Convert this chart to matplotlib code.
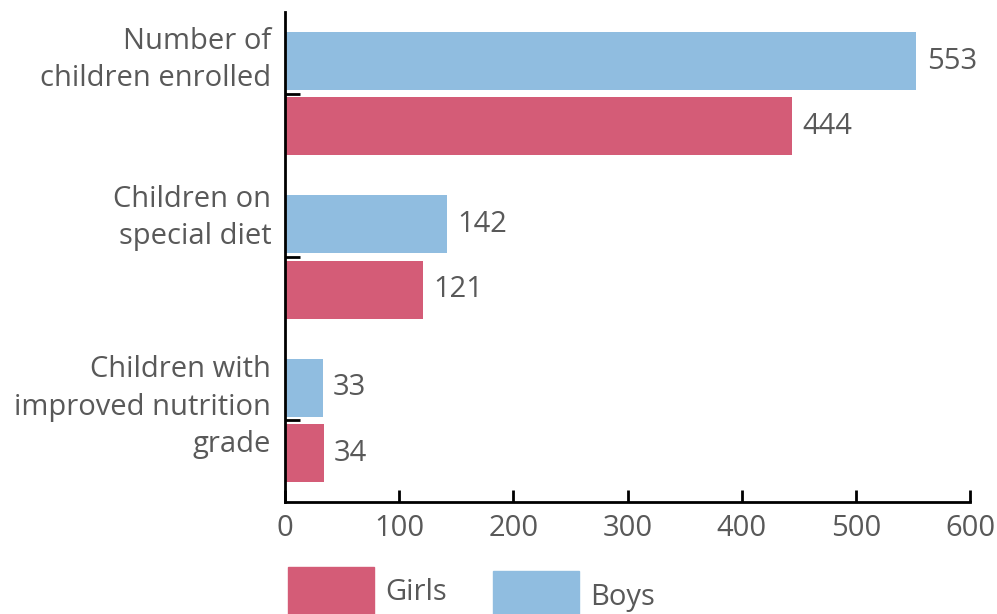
import matplotlib
matplotlib.use("Agg")
import matplotlib.pyplot as plt
from matplotlib.patches import Rectangle

categories = ["Number of\nchildren enrolled", "Children on\nspecial diet", "Children with\nimproved nutrition\ngrade"]
boys = [553, 142, 33]
girls = [444, 121, 34]
xticks = [0, 100, 200, 300, 400, 500, 600]

GIRL_C = "#d45c77"
BOY_C = "#90bde0"
TXT = "#595959"
FS = 21

plt.rcParams['font.family'] = ['Open Sans', 'DejaVu Sans']

fig = plt.figure(figsize=(9.97, 6.14), dpi=100)
W, H = 997, 614
ax = fig.add_axes([285 / W, 1 - 502 / H, (970 - 285) / W, (502 - 12) / H])

pos = list(range(len(categories)))
off = 0.2
h = 0.355
ax.barh([p - off for p in pos], boys, height=h, color=BOY_C)
ax.barh([p + off for p in pos], girls, height=h, color=GIRL_C)

for p, b, g in zip(pos, boys, girls):
    ax.text(b + 9, p - off, str(b), va='center', ha='left', fontsize=FS, color=TXT)
    ax.text(g + 9, p + off, str(g), va='center', ha='left', fontsize=FS, color=TXT)

ax.set_ylim(len(categories) - 0.5, -0.5)
ax.set_xlim(0, 600)
ax.set_xticks(xticks)
ax.set_xticklabels([str(t) for t in xticks], fontsize=FS, color=TXT)
ax.set_yticks(pos)
ax.set_yticklabels([])

label_offsets = [-0.207, -0.238, -0.08]
for p, c, o in zip(pos, categories, label_offsets):
    ax.text(-12, p + o, c, ha='right', va='center', fontsize=FS, color=TXT,
            linespacing=1.38, transform=ax.transData, clip_on=False)

for s in ['top', 'right']:
    ax.spines[s].set_visible(False)
for s in ['left', 'bottom']:
    ax.spines[s].set_linewidth(2)
    ax.spines[s].set_color('black')
ax.tick_params(axis='y', direction='in', length=11, width=2, colors='black')
ax.tick_params(axis='x', direction='in', length=9, width=2, colors='black', pad=9, labelcolor=TXT)

# legend
fig.patches.append(Rectangle((288 / W, 1 - 614 / H), 86 / W, 47 / H, transform=fig.transFigure, color=GIRL_C))
fig.patches.append(Rectangle((493 / W, 1 - 614 / H), 86 / W, 43 / H, transform=fig.transFigure, color=BOY_C))
fig.text(385 / W, 1 - 593 / H, "Girls", fontsize=FS, color=TXT, va='center', ha='left')
fig.text(590 / W, 1 - 597 / H, "Boys", fontsize=FS, color=TXT, va='center', ha='left')

fig.savefig("out.png", dpi=100)
